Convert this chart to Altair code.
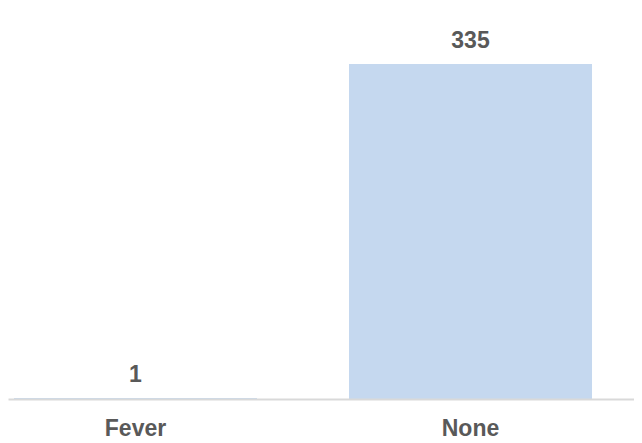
import altair as alt
import pandas as pd

categories = ["Fever", "None"]
counts = [1, 335]

df = pd.DataFrame({"symptom": categories, "count": counts})

FONT = "Liberation Sans"
GRAY = "#595959"

x_enc = alt.X(
    "symptom:N",
    sort=categories,
    title=None,
    scale=alt.Scale(paddingInner=0.2746, paddingOuter=0.0716, align=0.125),
    axis=alt.Axis(
        labelAngle=0,
        labelFont=FONT,
        labelFontSize=23,
        labelFontWeight="bold",
        labelColor=GRAY,
        labelPadding=18,
        ticks=False,
        domainColor="#d9d9d9",
        domainWidth=2,
        grid=False,
        zindex=1,
    ),
)
y_enc = alt.Y(
    "count:Q",
    title=None,
    scale=alt.Scale(domain=[0, 391], nice=False),
    axis=None,
)

bars = alt.Chart(df).mark_bar(color="#C5D8EF").encode(x=x_enc, y=y_enc)
labels = alt.Chart(df).mark_text(
    font=FONT, fontSize=23, fontWeight="bold", color=GRAY,
    baseline="alphabetic", dy=-16,
).encode(x=x_enc, y=y_enc, text="count:Q")

chart = (
    alt.layer(bars, labels)
    .properties(width=626, height=391, padding=0)
    .configure_view(stroke=None)
)

chart.save("out.html", embed_options={"renderer": "svg", "actions": False})
